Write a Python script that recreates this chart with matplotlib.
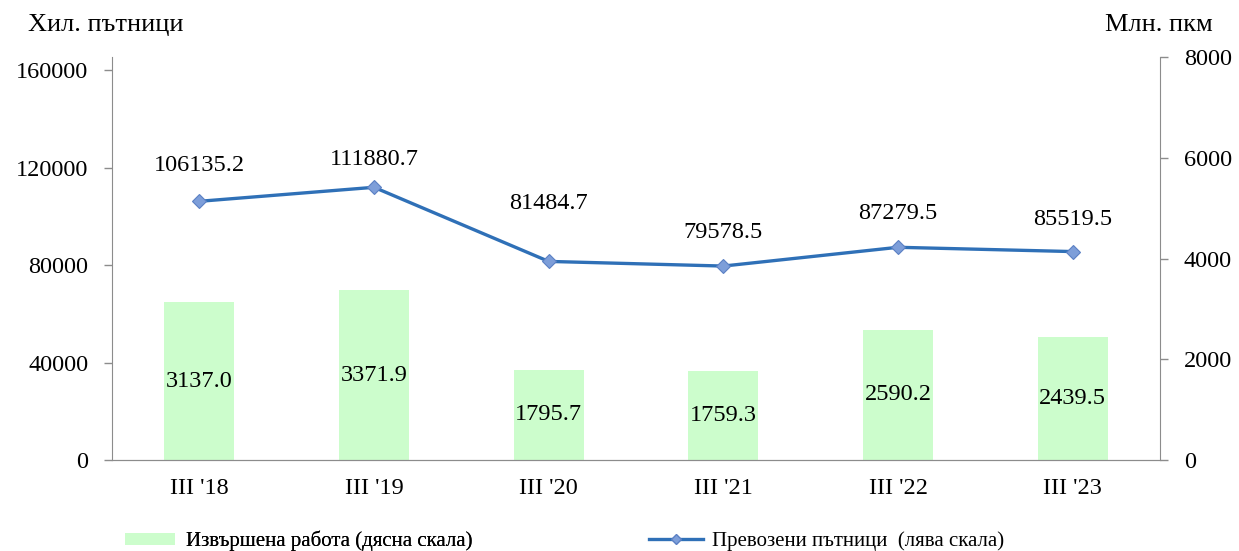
import numpy as np
import matplotlib.pyplot as plt
from matplotlib.patches import Patch
from matplotlib.lines import Line2D

plt.rcParams['font.family'] = ['Liberation Serif', 'DejaVu Serif']

categories = ["III '18", "III '19", "III '20", "III '21", "III '22", "III '23"]
passengers = [106135.2, 111880.7, 81484.7, 79578.5, 87279.5, 85519.5]  # left scale
work = [3137.0, 3371.9, 1795.7, 1759.3, 2590.2, 2439.5]  # right scale
label_offsets = [26, 20, 42, 24, 24, 23]  # points above markers

line_color = '#2f70b7'
bar_color = '#ccfdcc'
spine_color = '#8c8c8c'

fig = plt.figure(figsize=(12.39, 5.51), dpi=100)
ax = fig.add_axes([0.0904, 0.165, 0.8459, 0.7316])
ax2 = ax.twinx()

x = np.arange(len(categories))

# bars on right scale
ax2.bar(x, work, width=0.4, color=bar_color, zorder=1)
for xi, v in zip(x, work):
    ax2.text(xi, v / 2, "%.1f" % v, ha='center', va='center', fontsize=17.5)
ax2.set_ylim(0, 8000)
ax2.set_yticks(np.arange(0, 8001, 2000))

# line on left scale, drawn above the bars
ax.set_zorder(ax2.get_zorder() + 1)
ax.patch.set_visible(False)
ax.plot(x, passengers, color=line_color, lw=2.4, marker='D', markersize=7,
        markerfacecolor='#7d9ed9', markeredgecolor='#5b80c4', markeredgewidth=0.8)
for xi, v, off in zip(x, passengers, label_offsets):
    ax.annotate("%.1f" % v, (xi, v), textcoords='offset points', xytext=(0, off),
                ha='center', va='center', fontsize=17.5)
ax.set_ylim(0, 165333)
ax.set_yticks(np.arange(0, 160001, 40000))
ax.set_xlim(-0.5, 5.5)
ax.set_xticks(x)
ax.set_xticklabels(categories)

for a in (ax, ax2):
    for s in a.spines.values():
        s.set_color(spine_color)
    a.spines['top'].set_visible(False)
    a.tick_params(axis='y', labelsize=17.5, length=6, width=1, color=spine_color, pad=11)
ax.tick_params(axis='x', labelsize=17.5, length=0, pad=13)
ax2.spines['left'].set_visible(False)
ax.spines['right'].set_visible(False)

fig.text(0.023, 0.955, 'Хил. пътници', fontsize=19, va='center', ha='left')
fig.text(0.892, 0.955, 'Млн. пкм', fontsize=19, va='center', ha='left')

# legend entries, placed as two separate blocks like the original
leg1 = fig.legend([Patch(facecolor=bar_color, edgecolor='none')],
                  ['Извършена работа (дясна скала)'],
                  loc='center left', bbox_to_anchor=(0.101, 0.018), frameon=False,
                  fontsize=15, handlelength=2.4, handleheight=0.5, handletextpad=0.5,
                  borderpad=0, borderaxespad=0)
leg2 = fig.legend([Line2D([0], [0], color=line_color, lw=2.4, marker='D', markersize=5,
                          markerfacecolor='#7d9ed9', markeredgecolor='#5b80c4')],
                  ['Превозени пътници  (лява скала)'],
                  loc='center left', bbox_to_anchor=(0.524, 0.018), frameon=False,
                  fontsize=15, handlelength=2.6, handletextpad=0.4,
                  borderpad=0, borderaxespad=0)
fig.add_artist(leg1)

fig.savefig('out.png', dpi=100)
